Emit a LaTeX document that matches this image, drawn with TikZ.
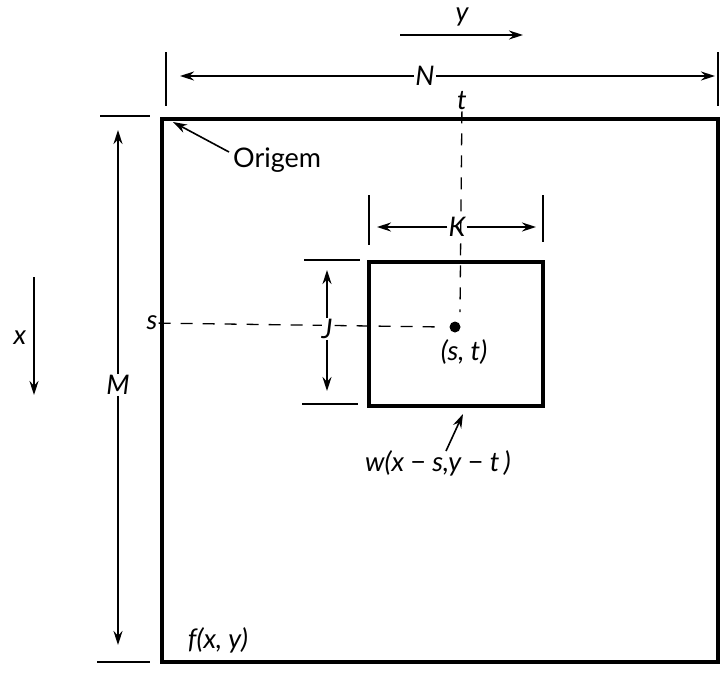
\documentclass[tikz,border=0pt]{standalone}
\usepackage{fontspec}
\setmainfont{Lato}
\usetikzlibrary{arrows.meta}
\tikzset{
  frame/.style={draw, line width=3.2pt},
  tickline/.style={line width=1.3pt},
  dimarr/.style={-{Stealth[length=14pt,width=9pt]}, line width=1.6pt},
  guide/.style={dash pattern=on 12pt off 10pt, line width=1.3pt},
  lbl/.style={font=\fontsize{27}{32}\selectfont\itshape, inner sep=1pt},
  plainlbl/.style={font=\fontsize{27}{32}\selectfont, inner sep=1pt}
}

\begin{document}
\begin{tikzpicture}[x=1pt, y=-1pt]
\useasboundingbox (0,0) rectangle (725,673);

% image f and window w
\coordinate (img-nw) at (162,119);
\coordinate (img-se) at (718,662);
\coordinate (win-nw) at (369,262);
\coordinate (win-se) at (543,406);
\draw[frame] (img-nw) rectangle (img-se);
\draw[frame] (win-nw) rectangle (win-se);

% axes directions
\node[lbl] (ylab) at (462,17) {y};
\coordinate (ystart) at (400,35);
\coordinate (yend) at (523,35);
\draw[dimarr] (ystart) -- (yend);

\node[lbl] (xlab) at (20,338) {x};
\coordinate (xstart) at (34,277);
\coordinate (xend) at (34,395);
\draw[dimarr] (xstart) -- (xend);

% width N
\coordinate (ntick-l1) at (166,52);
\coordinate (ntick-l2) at (166,106);
\coordinate (ntick-r1) at (718,52);
\coordinate (ntick-r2) at (718,106);
\draw[tickline] (ntick-l1) -- (ntick-l2);
\draw[tickline] (ntick-r1) -- (ntick-r2);
\node[lbl, fill=white] (N) at (425,76) {N};
\coordinate (nleft) at (180,76);
\coordinate (nright) at (715,76);
\draw[dimarr] (N) -- (nleft);
\draw[dimarr] (N) -- (nright);

% height M
\coordinate (mtick-t1) at (100,116);
\coordinate (mtick-t2) at (150,116);
\coordinate (mtick-b1) at (97,662);
\coordinate (mtick-b2) at (150,662);
\draw[tickline] (mtick-t1) -- (mtick-t2);
\draw[tickline] (mtick-b1) -- (mtick-b2);
\node[lbl, fill=white] (M) at (118,385) {M};
\coordinate (mtop) at (118,130);
\coordinate (mbot) at (118,645);
\draw[dimarr] (M) -- (mtop);
\draw[dimarr] (M) -- (mbot);

% window width K
\coordinate (ktick-l1) at (369,195);
\coordinate (ktick-l2) at (369,245);
\coordinate (ktick-r1) at (543,195);
\coordinate (ktick-r2) at (543,242);
\draw[tickline] (ktick-l1) -- (ktick-l2);
\draw[tickline] (ktick-r1) -- (ktick-r2);
\node[lbl, fill=white] (K) at (457,227) {K};
\coordinate (kleft) at (377,227);
\coordinate (kright) at (536,227);
\draw[dimarr] (K) -- (kleft);
\draw[dimarr] (K) -- (kright);

% window height J
\coordinate (jtick-t1) at (304,260);
\coordinate (jtick-t2) at (360,260);
\coordinate (jtick-b1) at (302,404);
\coordinate (jtick-b2) at (358,404);
\draw[tickline] (jtick-t1) -- (jtick-t2);
\draw[tickline] (jtick-b1) -- (jtick-b2);
\coordinate (jtop) at (327,270);
\coordinate (jbot) at (327,391);

% centre (s,t) and guides
\node[circle, fill=black, inner sep=0pt, minimum size=11pt] (centre) at (455,327) {};
\node[lbl] (slab) at (152,323) {s};
\node[lbl] (tlab) at (462,101) {t};
\coordinate (sguide) at (443,327);
\coordinate (tguide) at (460,312);
\draw[guide] (slab) -- (sguide);
\draw[guide] (tlab) -- (tguide);
\node[lbl, fill=white, inner xsep=0pt] (J) at (327,329) {J};
\draw[dimarr] (J) -- (jtop);
\draw[dimarr] (J) -- (jbot);
\node[lbl] (stlab) at (464,352) {(s, t)};

% annotations
\node[plainlbl, anchor=west] (origem) at (232,160) {Origem};
\coordinate (obase) at (229,152);
\coordinate (otip) at (173,122);
\draw[dimarr] (obase) -- (otip);
\node[lbl] (wlab) at (438,463) {w(x \textup{−} s,y \textup{−} t\,)};
\coordinate (wbase) at (446,451);
\coordinate (wtip) at (463,414);
\draw[dimarr] (wbase) -- (wtip);
\node[lbl] (flab) at (218,640) {f(x, y)};
\end{tikzpicture}
\end{document}
